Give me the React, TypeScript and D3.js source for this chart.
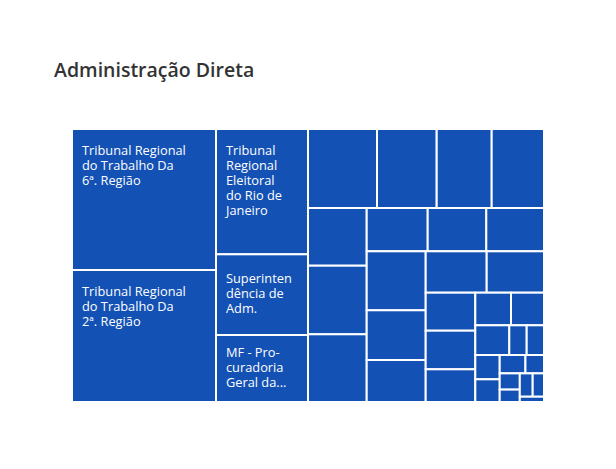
import { useEffect, useRef } from 'react';
import * as d3 from 'd3';

// valores, na ordem em que o treemap os distribui
const valores = [
  20304, 19008, 11530, 7424, 6164, 5451, 4716, 4345, 4132, 3387, 4027, 3974,
  2641, 2537, 2498, 3481, 2932, 2478, 2525, 2372, 1885, 1915, 1622, 1164, 1076,
  1010, 517, 514, 593, 554, 472, 341, 326, 249, 301, 264, 128,
];

const orgaos = [
  'Tribunal Regional do Trabalho Da 6ª. Região',
  'Tribunal Regional do Trabalho Da 2ª. Região',
  'Tribunal Regional Eleitoral do Rio de Janeiro',
  'Superintendência de Adm.',
  'MF - Procuradoria Geral da Fazenda Nacional',
];

// rótulos como aparecem (quebrados) nas células
const rotulos = [
  ['Tribunal Regional', 'do Trabalho Da', '6ª. Região'],
  ['Tribunal Regional', 'do Trabalho Da', '2ª. Região'],
  ['Tribunal', 'Regional', 'Eleitoral', 'do Rio de', 'Janeiro'],
  ['Superinten', 'dência de', 'Adm.'],
  ['MF - Pro-', 'curadoria', 'Geral da...'],
];

const titulo = 'Administração Direta';

const WIDTH = 616;
const HEIGHT = 469;
const FONT = '"Open Sans", Lato, sans-serif';

function Treemap() {
  const svgRef = useRef<SVGSVGElement>(null);

  useEffect(() => {
    if (!svgRef.current) return;
    const svg = d3.select(svgRef.current);
    svg.selectAll('*').remove();

    const margin = { top: 129, right: 72, bottom: 67, left: 72 };
    const W = WIDTH - margin.left - margin.right;
    const H = HEIGHT - margin.top - margin.bottom;

    svg.append('text').attr('x', 54).attr('y', 77)
      .attr('font-family', FONT).attr('font-size', 19.5).attr('font-weight', 600)
      .attr('fill', '#333333').text(titulo);

    const data = {
      name: titulo,
      children: valores.map((v, i) => ({ name: orgaos[i] ?? '', value: v, idx: i })),
    };
    const root = d3.hierarchy<any>(data).sum(d => d.value ?? 0);
    d3.treemap<any>().size([W, H]).tile(d3.treemapSquarify.ratio(1.04))(root);

    const g = svg.append('g').attr('transform', `translate(${margin.left},${margin.top})`);
    const cell = g.selectAll('g.cell').data(root.leaves()).join('g').attr('class', 'cell');

    cell.append('rect')
      .attr('x', (d: any) => d.x0).attr('y', (d: any) => d.y0)
      .attr('width', (d: any) => d.x1 - d.x0).attr('height', (d: any) => d.y1 - d.y0)
      .attr('fill', '#1351b4').attr('stroke', '#ffffff').attr('stroke-width', 2);

    // rótulos: uma linha por elemento de texto
    cell.each(function (d: any) {
      const lines = rotulos[d.data.idx];
      if (!lines) return;
      const h = d.y1 - d.y0;
      const lh = 15;
      const top = h < 100 ? d.y0 + (h - lines.length * lh) / 2 + 11 : d.y0 + 25.5;
      lines.forEach((l, i) => {
        d3.select(this).append('text')
          .attr('x', d.x0 + 10).attr('y', top + i * lh)
          .attr('font-family', FONT).attr('font-size', 12.8).attr('font-weight', 500)
          .attr('fill', '#ffffff').text(l);
      });
    });
  }, []);

  return <svg ref={svgRef} width={WIDTH} height={HEIGHT} style={{ position: 'absolute', left: 0, top: 0, background: '#ffffff' }} />;
}

export default function App() {
  return <Treemap />;
}
